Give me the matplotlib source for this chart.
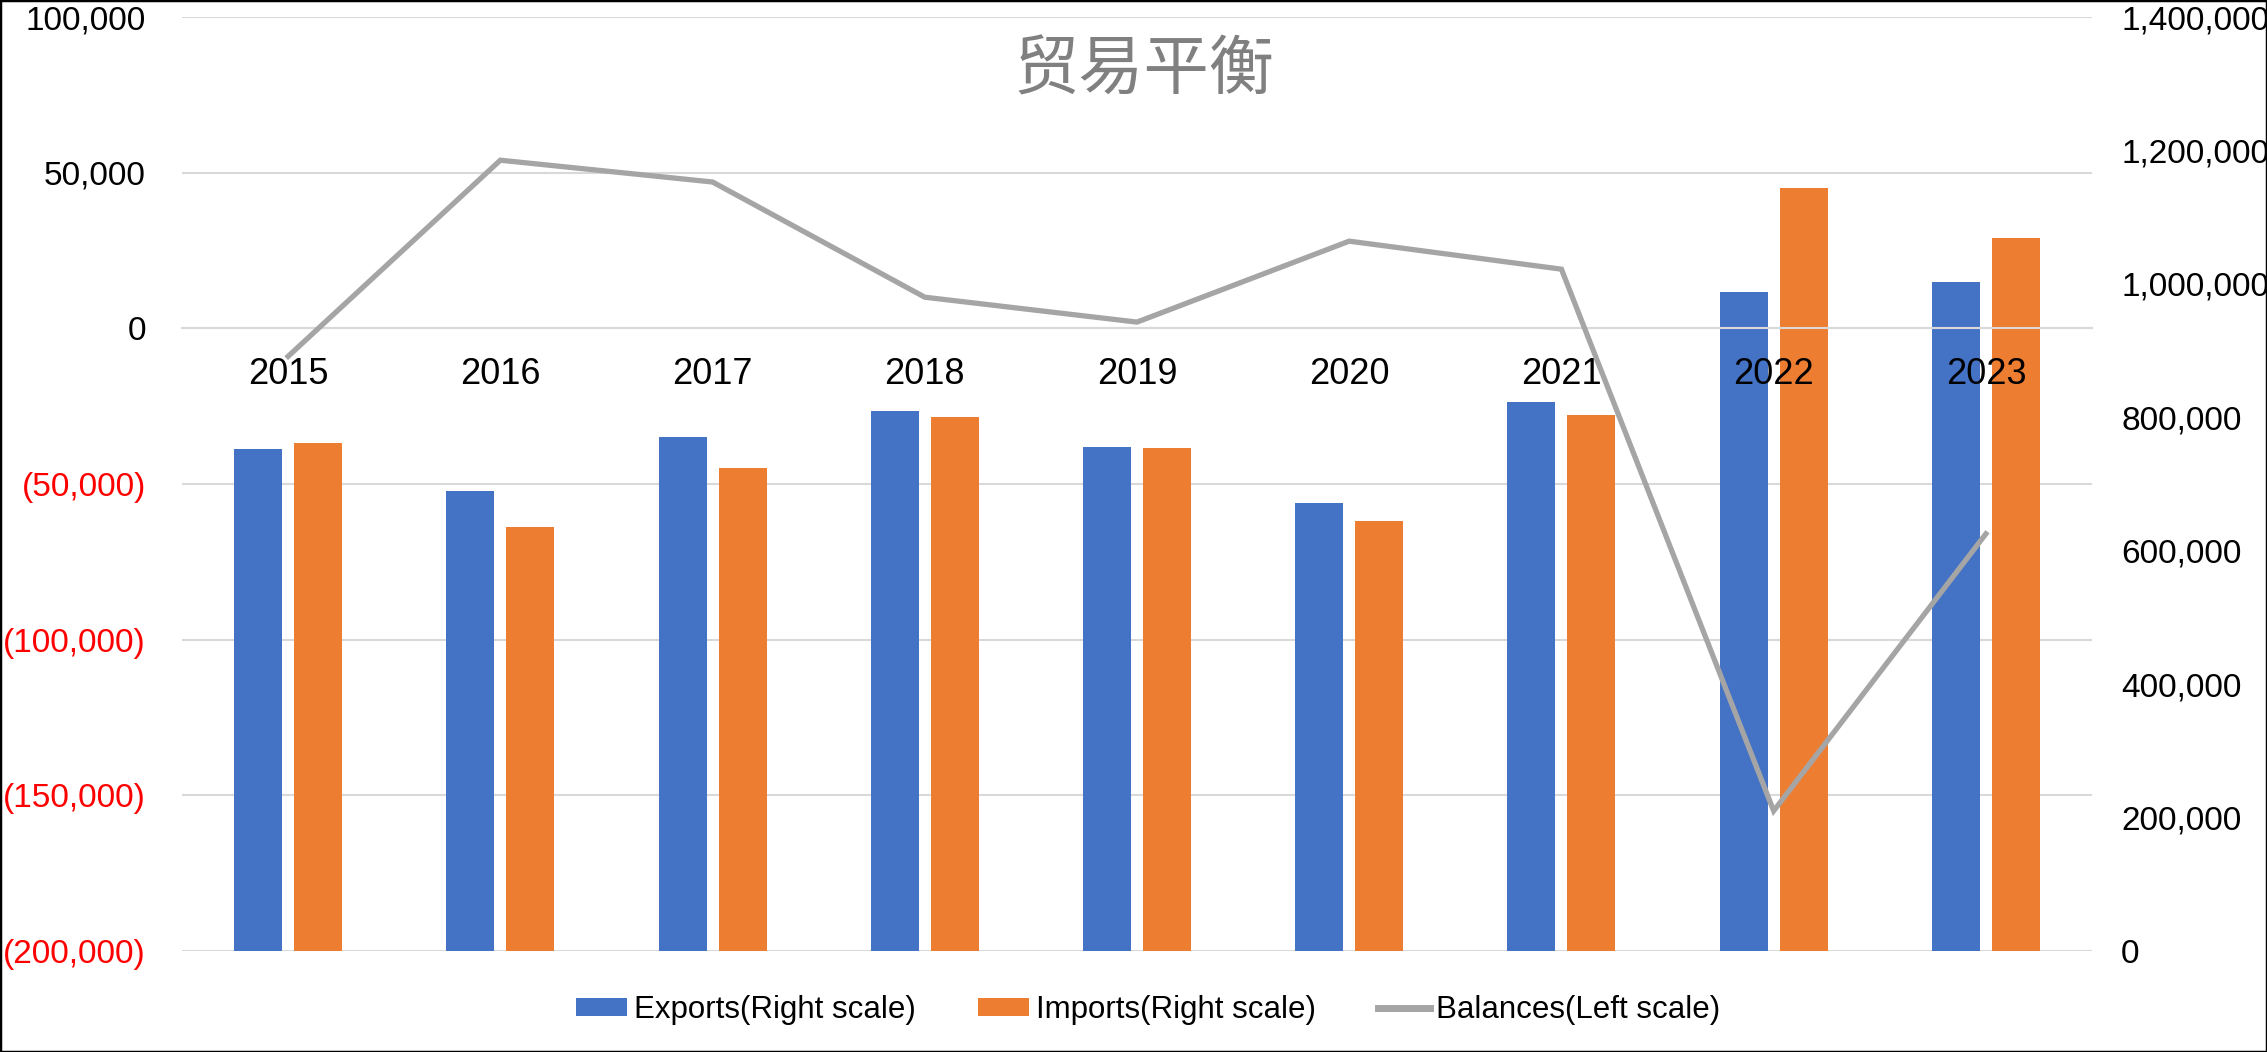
import matplotlib
matplotlib.use("Agg")
import matplotlib.pyplot as plt
from matplotlib.patches import Rectangle, Patch
from matplotlib.lines import Line2D
import numpy as np

plt.rcParams['font.family'] = ['Liberation Sans', 'DejaVu Sans']

years = ['2015', '2016', '2017', '2018', '2019', '2020', '2021', '2022', '2023']
exports = [752000, 689000, 771000, 810000, 756000, 672000, 823000, 988000, 1003000]
imports = [761000, 635000, 724000, 800000, 754000, 644000, 804000, 1143000, 1069000]
balances = [-9000, 54000, 47000, 10000, 2000, 28000, 19000, -155000, -66000]

left_ticks = [-200000, -150000, -100000, -50000, 0, 50000, 100000]
right_ticks = [0, 200000, 400000, 600000, 800000, 1000000, 1200000, 1400000]

title = '贸易平衡'
labels = ['Exports(Right scale)', 'Imports(Right scale)', 'Balances(Left scale)']

BLUE = '#4472C4'
ORANGE = '#ED7D31'
GRAY = '#A5A5A5'
GRID = '#D9D9D9'

fig = plt.figure(figsize=(22.67, 10.52), dpi=100)
ax = fig.add_axes([182/2267, 1-951/1052, (2092-182)/2267, (951-17)/1052])
ax2 = ax.twinx()
ax3 = ax.twinx()

x = np.arange(len(years))
bw = 0.226
off = 0.1414

# grid axis (left scale)
ax.set_xlim(-0.5, len(years)-0.5)
ax.set_ylim(left_ticks[0], left_ticks[-1])
ax.set_yticks(left_ticks)

def fmt(v):
    s = f"{abs(v):,.0f}"
    return f"({s})" if v < 0 else s

ax.set_yticklabels([fmt(v) for v in left_ticks])
for lab, v in zip(ax.get_yticklabels(), left_ticks):
    lab.set_color('#FF0000' if v < 0 else 'black')
ax.tick_params(axis='y', length=0, pad=26, labelsize=24)
ax.tick_params(axis='x', bottom=False, labelbottom=False)
ax.grid(axis='y', color=GRID, linewidth=1.5)
ax.set_axisbelow(True)
for s in ax.spines.values():
    s.set_visible(False)

# bars (right scale)
ax2.bar(x - off, exports, width=bw, color=BLUE, zorder=2)
ax2.bar(x + off, imports, width=bw, color=ORANGE, zorder=2)
ax2.set_ylim(right_ticks[0], right_ticks[-1])
ax2.set_yticks(right_ticks)
ax2.set_yticklabels([fmt(v) for v in right_ticks])
ax2.tick_params(axis='y', length=0, pad=21, labelsize=24)
for s in ax2.spines.values():
    s.set_visible(False)

# line (left scale) + category axis at zero
ax3.set_ylim(left_ticks[0], left_ticks[-1])
ax3.plot(x, balances, color=GRAY, linewidth=3.8, solid_joinstyle='miter', zorder=3)
ax3.yaxis.set_visible(False)
ax3.xaxis.set_visible(True)
ax3.set_xticks(x)
ax3.set_xticklabels(years)
ax3.tick_params(axis='x', length=0, pad=21, labelsize=26, bottom=True, labelbottom=True, top=False, labeltop=False)
for k in ['top', 'left', 'right']:
    ax3.spines[k].set_visible(False)
ax3.spines['bottom'].set_position(('data', 0))
ax3.spines['bottom'].set_color(GRID)
ax3.spines['bottom'].set_linewidth(1.5)
ax3.set_xlim(-0.5, len(years)-0.5)

fig.text(1144/2267, 1-71/1052, title, fontsize=47, color='#808080',
         ha='center', va='center', family=['Noto Sans CJK SC', 'DejaVu Sans'])

handles = [Patch(facecolor=BLUE), Patch(facecolor=ORANGE),
           Line2D([0], [0], color=GRAY, linewidth=5)]
fig.legend(handles, labels, loc='center', bbox_to_anchor=(1148/2267, 1-1010/1052),
           ncol=3, frameon=False, fontsize=22.5, handlelength=1.65, handleheight=0.55,
           handletextpad=0.2, columnspacing=2.0)

fig.add_artist(Rectangle((0, 0), 1, 1, transform=fig.transFigure, fill=False,
                         edgecolor='black', linewidth=2.5))

fig.savefig('out.png', dpi=100)
